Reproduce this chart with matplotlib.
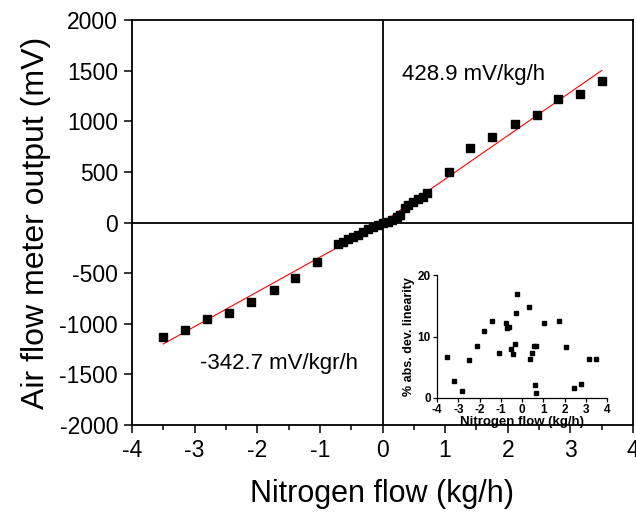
import matplotlib
matplotlib.use("Agg")
import matplotlib.pyplot as plt
from matplotlib.ticker import MultipleLocator
import numpy as np

plt.rcParams['font.family'] = ['Liberation Sans', 'DejaVu Sans']
plt.rcParams['axes.unicode_minus'] = False

# Main data: nitrogen flow (kg/h) vs air flow meter output (mV)
flow = [-3.50, -3.15, -2.80, -2.45, -2.10, -1.74, -1.40, -1.05,
        -0.71, -0.63, -0.55, -0.47, -0.39, -0.31, -0.23, -0.15, -0.07,
        0.01, 0.08, 0.15, 0.23, 0.28, 0.36, 0.41, 0.49, 0.57, 0.65, 0.71,
        1.06, 1.40, 1.75, 2.11, 2.46, 2.81, 3.16, 3.50]
output = [-1128, -1059, -956, -897, -782, -667, -545, -393,
          -215, -189, -166, -146, -123, -90, -67, -41, -25,
          -8, 8, 25, 57, 74, 140, 173, 205, 229, 255, 288,
          502, 733, 844, 973, 1059, 1223, 1266, 1400]

# Linear fits (slopes in mV per kg/h)
slope_pos = 428.9
slope_neg = 342.7
fit_x_pos = np.array([0.0, 3.5])
fit_x_neg = np.array([-3.5, 0.0])

# Inset: % absolute deviation from linearity
inset_flow = [-3.53, -3.18, -2.81, -2.48, -2.12, -1.77, -1.41, -1.07,
              -0.74, -0.71, -0.63, -0.50, -0.44, -0.35, -0.28, -0.24,
              0.35, 0.39, 0.49, 0.55, 0.66, 0.60, 0.67,
              1.02, 1.74, 2.09, 2.43, 2.79, 3.14, 3.50]
inset_dev = [6.6, 2.8, 1.1, 6.2, 8.5, 10.9, 12.5, 7.3,
             12.2, 11.4, 11.6, 7.9, 7.2, 8.8, 13.9, 16.9,
             14.8, 6.3, 7.3, 8.5, 8.4, 2.1, 0.8,
             12.2, 12.6, 8.3, 1.6, 2.3, 6.3, 6.3]

W, H = 636, 512
fig = plt.figure(figsize=(W / 100, H / 100), dpi=100)

L, R, T, B = 132, 633, 20, 425
ax = fig.add_axes([L / W, 1 - B / H, (R - L) / W, (B - T) / H])
ax.set_xlim(-4, 4)
ax.set_ylim(-2000, 2000)
ax.axhline(0, color='black', lw=1.3, zorder=1)
ax.axvline(0, color='black', lw=1.3, zorder=1)
ax.plot(fit_x_pos, slope_pos * fit_x_pos, color='red', lw=0.8, zorder=2)
ax.plot(fit_x_neg, slope_neg * fit_x_neg, color='red', lw=0.8, zorder=2)
ax.plot(flow, output, 's', color='black', markersize=5.8, zorder=3)

ax.xaxis.set_major_locator(MultipleLocator(1))
ax.xaxis.set_minor_locator(MultipleLocator(0.5))
ax.yaxis.set_major_locator(MultipleLocator(500))
ax.tick_params(axis='both', which='major', direction='out', length=6, width=1.1,
               labelsize=16.5, pad=4)
ax.tick_params(axis='x', which='minor', direction='out', length=3.5, width=1.1)
ax.tick_params(top=False, right=False)
for s in ax.spines.values():
    s.set_linewidth(1.3)
ax.set_xlabel('Nitrogen flow (kg/h)', fontsize=22, labelpad=12)
ax.set_ylabel('Air flow meter output (mV)', fontsize=23, labelpad=6)

ax.text(0.31, 1457, '428.9 mV/kg/h', fontsize=16, va='center', ha='left')
ax.text(-2.92, -1388, '-342.7 mV/kgr/h', fontsize=16, va='center', ha='left')

# Inset
iL, iR, iB = 437, 607, 398
iT = 275
axi = fig.add_axes([iL / W, 1 - iB / H, (iR - iL) / W, (iB - iT) / H])
axi.plot(inset_flow, inset_dev, 's', color='black', markersize=2.2)
axi.set_xlim(-4, 4)
axi.set_ylim(0, 20)
axi.xaxis.set_major_locator(MultipleLocator(1))
axi.yaxis.set_major_locator(MultipleLocator(10))
axi.spines['top'].set_visible(False)
axi.spines['right'].set_visible(False)
for s in ('left', 'bottom'):
    axi.spines[s].set_linewidth(0.9)
axi.tick_params(direction='out', length=3, width=0.9, labelsize=8.5, pad=1.5)
for lab in axi.get_xticklabels() + axi.get_yticklabels():
    lab.set_fontweight('bold')
axi.set_xlabel('Nitrogen flow (kg/h)', fontsize=9.5, fontweight='bold', labelpad=0)
axi.set_ylabel('% abs. dev. linearity', fontsize=9, fontweight='bold', labelpad=2)

fig.savefig('out.png', dpi=100)
